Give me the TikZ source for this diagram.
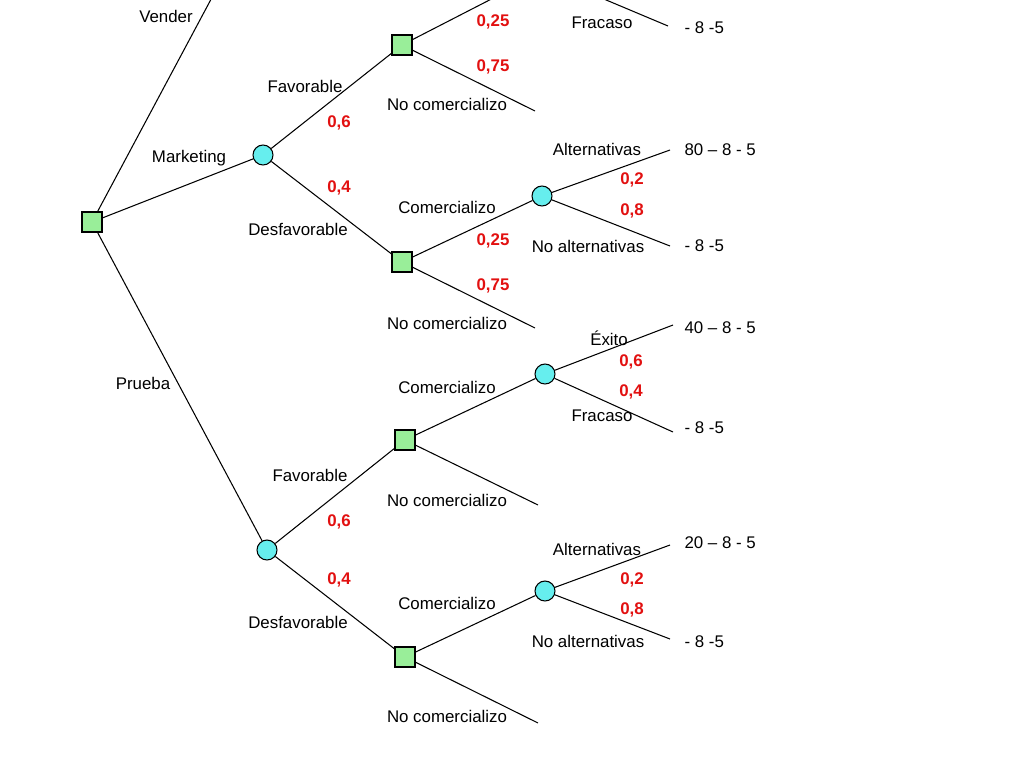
\documentclass[tikz,border=0pt]{standalone}
\usepackage{fontspec}
\setmainfont{Liberation Sans}
\definecolor{decgreen}{RGB}{153,238,153}
\definecolor{chancecyan}{RGB}{102,238,238}
\definecolor{probred}{RGB}{226,16,16}

\begin{document}
\begin{tikzpicture}[x=0.02cm,y=-0.02cm,line width=0.6pt,
    decision/.style={rectangle,draw,fill=decgreen,minimum size=0.4cm,inner sep=0pt},
    chance/.style={circle,draw,fill=chancecyan,minimum size=0.4cm,inner sep=0pt},
    lbl/.style={font=\fontsize{9.6}{11}\selectfont,inner sep=0pt},
    prob/.style={font=\fontsize{9.6}{11}\selectfont\bfseries,text=probred,inner sep=0pt},
    pay/.style={font=\fontsize{9.6}{11}\selectfont,anchor=west,inner sep=0pt}]
    \useasboundingbox (0,0) rectangle (1024,768);
    \clip (0,0) rectangle (1024,768);

    %decision nodes
    \node (D0) at (92,222) [decision]{};
    \node (S1) at (402,45) [decision]{};
    \node (S2) at (402,262) [decision]{};
    \node (S3) at (405,440) [decision]{};
    \node (S4) at (405,657) [decision]{};

    %chance nodes
    \node (C1) at (263,155) [chance]{};
    \node (C2) at (267,550) [chance]{};
    \coordinate (C3) at (542,-27);
    \node (C4) at (542,196) [chance]{};
    \node (C5) at (545,374) [chance]{};
    \node (C6) at (545,591) [chance]{};

    %free ends
    \coordinate (V0) at (232,-40);
    \coordinate (E1) at (668,26);
    \coordinate (N1) at (535,111);
    \coordinate (E41) at (670,150);
    \coordinate (E42) at (670,246);
    \coordinate (N2) at (535,328);
    \coordinate (E51) at (673,325);
    \coordinate (E52) at (673,432);
    \coordinate (N3) at (538,505);
    \coordinate (E61) at (670,545);
    \coordinate (E62) at (670,639);
    \coordinate (N4) at (538,723);

    %branches
    \draw (D0) to (V0);
    \draw (D0) to (C1);
    \draw (D0) to (C2);
    \draw (C1) to (S1);
    \draw (C1) to (S2);
    \draw (C2) to (S3);
    \draw (C2) to (S4);
    \draw (S1) to (C3);
    \draw (S1) to (N1);
    \draw (C3) to (E1);
    \draw (S2) to (C4);
    \draw (S2) to (N2);
    \draw (C4) to (E41);
    \draw (C4) to (E42);
    \draw (S3) to (C5);
    \draw (S3) to (N3);
    \draw (C5) to (E51);
    \draw (C5) to (E52);
    \draw (S4) to (C6);
    \draw (S4) to (N4);
    \draw (C6) to (E61);
    \draw (C6) to (E62);

    %branch labels
    \node (LV) at (166,16) [lbl]{Vender};
    \node (LM) at (189,158) [lbl]{Marketing};
    \node (LP) at (143,383) [lbl]{Prueba};
    \node (LF1) at (305,86) [lbl]{Favorable};
    \node (LD1) at (298,229) [lbl]{Desfavorable};
    \node (LF2) at (310,475) [lbl]{Favorable};
    \node (LD2) at (298,622) [lbl]{Desfavorable};
    \node (LN1) at (447,104) [lbl]{No comercializo};
    \node (LC2) at (447,207) [lbl]{Comercializo};
    \node (LN2) at (447,323) [lbl]{No comercializo};
    \node (LC3) at (447,387) [lbl]{Comercializo};
    \node (LN3) at (447,500) [lbl]{No comercializo};
    \node (LC4) at (447,603) [lbl]{Comercializo};
    \node (LN4) at (447,716) [lbl]{No comercializo};
    \node (LFr1) at (602,23) [lbl]{Fracaso};
    \node (LA1) at (597,149) [lbl]{Alternativas};
    \node (LNA1) at (588,246) [lbl]{No alternativas};
    \node (LEx) at (609,338) [lbl]{Éxito};
    \node (LFr2) at (602,416) [lbl]{Fracaso};
    \node (LA2) at (597,549) [lbl]{Alternativas};
    \node (LNA2) at (588,641) [lbl]{No alternativas};

    %probabilities
    \node (P1) at (339,123) [prob]{0,6};
    \node (P2) at (339,188) [prob]{0,4};
    \node (P3) at (339,522) [prob]{0,6};
    \node (P4) at (339,580) [prob]{0,4};
    \node (P5) at (493,22) [prob]{0,25};
    \node (P6) at (493,67) [prob]{0,75};
    \node (P7) at (493,241) [prob]{0,25};
    \node (P8) at (493,286) [prob]{0,75};
    \node (P9) at (632,-8) [prob]{0,4};
    \node (P10) at (632,180) [prob]{0,2};
    \node (P11) at (632,211) [prob]{0,8};
    \node (P12) at (631,362) [prob]{0,6};
    \node (P13) at (631,392) [prob]{0,4};
    \node (P14) at (632,580) [prob]{0,2};
    \node (P15) at (632,610) [prob]{0,8};

    %payoffs
    \node (R1) at (684,28) [pay]{- 8 -5};
    \node (R2) at (684,150) [pay]{80 – 8 - 5};
    \node (R3) at (684,246) [pay]{- 8 -5};
    \node (R4) at (684,328) [pay]{40 – 8 - 5};
    \node (R5) at (684,428) [pay]{- 8 -5};
    \node (R6) at (684,543) [pay]{20 – 8 - 5};
    \node (R7) at (684,642) [pay]{- 8 -5};
  \end{tikzpicture}
\end{document}
